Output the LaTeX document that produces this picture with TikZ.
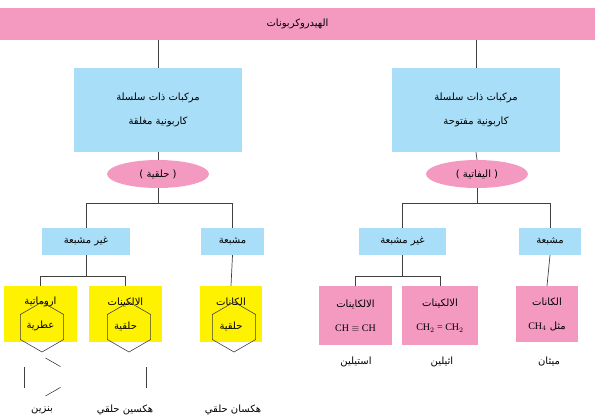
\documentclass[tikz,border=0pt]{standalone}
\usepackage{fontspec}
\setmainfont{Liberation Serif}
\newfontfamily\arabicfont[Script=Arabic]{DejaVu Sans}
\TeXXeTstate=1
\usetikzlibrary{shapes.geometric}
\definecolor{pinkc}{HTML}{F49AC1}
\definecolor{bluec}{HTML}{A8DEF7}
\definecolor{yellowc}{HTML}{FFF200}
\begin{document}
\begin{tikzpicture}[x=1pt,y=-1pt,
  box/.style={fill=#1,draw=none,inner sep=0pt,align=center,font=\arabicfont\fontsize{10}{24}\selectfont},
  ln/.style={draw=black!75,line width=0.7pt},
  lbl/.style={font=\arabicfont\fontsize{10}{12}\selectfont}]
\useasboundingbox (0,0) rectangle (600,418);
\node[box=pinkc,minimum width=595,minimum height=32] (top) at (297.5,24) {\beginR الهيدروكربونات\endR};
\node[box=bluec,minimum width=168,minimum height=84] (cl) at (158,110) {\beginR مركبات ذات سلسلة\endR\\\beginR كاربونية مغلقة\endR};
\node[box=bluec,minimum width=168,minimum height=84] (op) at (476,110) {\beginR مركبات ذات سلسلة\endR\\\beginR كاربونية مفتوحة\endR};
\node[ellipse,box=pinkc,minimum width=102,minimum height=28] (el) at (158,174) {\beginR( حلقية )\endR};
\node[ellipse,box=pinkc,minimum width=102,minimum height=28] (er) at (477,174) {\beginR( اليفاتية )\endR};
\node[box=bluec,minimum width=88,minimum height=27] (lu) at (86,241.5) {\beginR غير مشبعة\endR};
\node[box=bluec,minimum width=63,minimum height=27] (ls) at (232.5,241.5) {\beginR مشبعة\endR};
\node[box=bluec,minimum width=87,minimum height=27] (ru) at (402.5,241.5) {\beginR غير مشبعة\endR};
\node[box=bluec,minimum width=62,minimum height=27] (rs) at (550,241.5) {\beginR مشبعة\endR};
\node[box=yellowc,minimum width=73,minimum height=56] (ar) at (40.5,314) {\beginR اروماتية\endR\\\beginR عطرية\endR};
\node[box=yellowc,minimum width=73,minimum height=56] (ce) at (125.5,314) {\beginR الالكينات\endR\\\beginR حلقية\endR};
\node[box=yellowc,minimum width=62,minimum height=56] (ca) at (231,314) {\beginR الكانات\endR\\\beginR حلقية\endR};
\node[box=pinkc,minimum width=73,minimum height=59] (yn) at (355.5,315.5) {\beginR الالكاينات\endR\\\rmfamily CH $\equiv$ CH};
\node[box=pinkc,minimum width=76,minimum height=59] (en) at (440,315.5) {\beginR الالكينات\endR\\\rmfamily CH$_2$ = CH$_2$};
\node[box=pinkc,minimum width=62,minimum height=56] (an) at (547,314) {\beginR الكانات\endR\\\beginR مثل \beginL{\rmfamily CH$_4$}\endL\endR};
% connectors
\draw[ln] (cl.north) -- (cl.north |- top.south);
\draw[ln] (op.north) -- (op.north |- top.south);
\draw[ln] (cl.south) -- (el.north);
\draw[ln] (op.south) -- (er.north);
\draw[ln] (el.south) -- (158,203);
\draw[ln] (er.south) -- (477,203);
\draw[ln] (lu.north) -- (86,203) -- (232.5,203) -- (ls.north);
\draw[ln] (ru.north) -- (402.5,203) -- (550,203) -- (rs.north);
\draw[ln] (lu.south) -- (86,276);
\draw[ln] (ar.north) -- (40.5,276) -- (125.5,276) -- (ce.north);
\draw[ln] (ls.south) -- (ca.north);
\draw[ln] (ru.south) -- (402.5,276);
\draw[ln] (yn.north) -- (355.5,276) -- (440,276) -- (en.north);
\draw[ln] (rs.south) -- (an.north);
% rings
\foreach \cx in {42,129,234}{
  \draw[black!75,line width=0.6pt] (\cx,352) -- ++(-30:25) -- ++(-90:25) -- ++(-150:25) -- ++(150:25) -- ++(90:25) -- cycle;
}
\draw[black!75,line width=0.6pt] (42-17.5,367) -- (42-17.5,388);
\draw[black!75,line width=0.6pt] (42+3.5,358) -- (42+18.5,366.6);
\draw[black!75,line width=0.6pt] (42+18.5,387.4) -- (42+3.5,396);
\draw[black!75,line width=0.6pt] (129+17.5,367) -- (129+17.5,388);
\node[lbl] (bz) at (42,410) {\beginR بنزين\endR};
\node[lbl] (hx) at (125,410) {\beginR هكسين حلقي\endR};
\node[lbl] (hn) at (233,410) {\beginR هكسان حلقي\endR};
\node[lbl] (ac) at (356,362) {\beginR استيلين\endR};
\node[lbl] (et) at (442,362) {\beginR اثيلين\endR};
\node[lbl] (me) at (549,362) {\beginR ميثان\endR};
\end{tikzpicture}
\end{document}
